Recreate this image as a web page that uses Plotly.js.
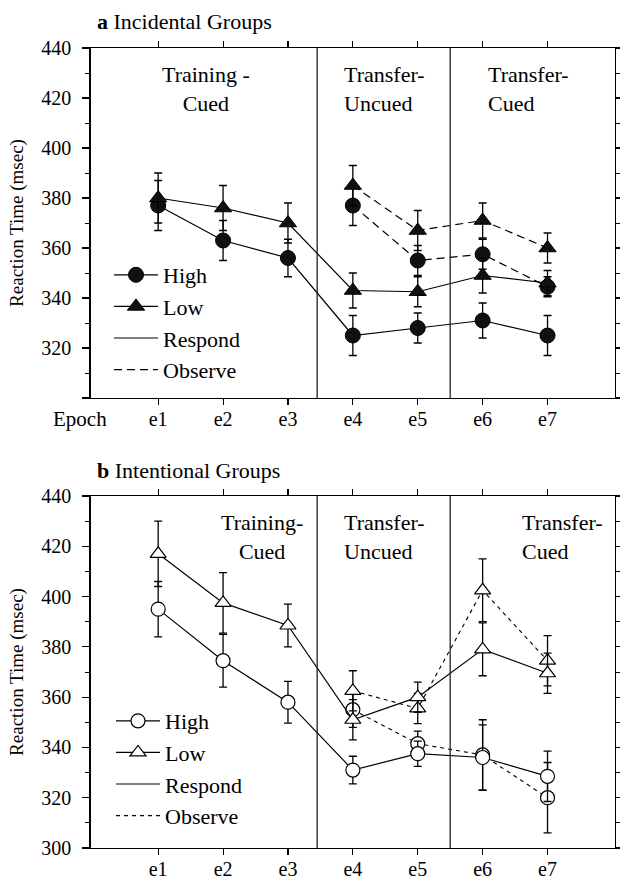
<!DOCTYPE html>
<html>
<head>
<meta charset="utf-8">
<script src="https://cdn.plot.ly/plotly-3.0.1.min.js"></script>
<style>
html,body{margin:0;padding:0;background:#fff;}
#chart{width:620px;height:879px;}
</style>
</head>
<body>
<div id="chart"></div>
<script>
// ---------- data ----------
const epochs = ['e1', 'e2', 'e3', 'e4', 'e5', 'e6', 'e7'];
const observeEpochs = ['e4', 'e5', 'e6', 'e7'];

// (a) Incidental groups
const incHighRespond    = [377, 363, 356, 325, 328, 331, 325];
const incHighRespondErr = [10, 8, 7.5, 8, 6, 7, 8];
const incLowRespond     = [380, 376, 370, 343, 342.5, 349, 346];
const incLowRespondErr  = [10, 9, 8, 7, 6, 7, 5];
const incHighObserve    = [377, 355, 357.5, 344.5];
const incHighObserveErr = [8, 6, 6, 4];
const incLowObserve     = [385, 367, 371, 360];
const incLowObserveErr  = [8, 8, 7, 6];

// (b) Intentional groups
const intHighRespond    = [395, 374.5, 358, 331, 337.5, 336, 328.5];
const intHighRespondErr = [11, 10.5, 8.3, 5.5, 5, 13, 10];
const intLowRespond     = [417, 397.5, 388.5, 351, 360, 379, 369.5];
const intLowRespondErr  = [13, 12, 8.5, 8, 6, 10.5, 8];
const intHighObserve    = [355, 341.5, 337, 320];
const intHighObserveErr = [7, 5, 14, 14];
const intLowObserve     = [362.5, 355.5, 402.5, 374.5];
const intLowObserveErr  = [8, 6, 12.5, 10];

const phaseBoundaries = [2.45, 4.5];   // between e3/e4 and e5/e6 (category index)
const yTickVals = [300, 320, 340, 360, 380, 400, 420, 440];
const yTickTextTop = ['', '320', '340', '360', '380', '400', '420', '440'];
const yTickTextBottom = ['300', '320', '340', '360', '380', '400', '420', '440'];
const yMinorVals = [310, 330, 350, 370, 390, 410, 430];

// ---------- helpers ----------
const W = 620, H = 879;
const px = v => v / W;
const py = v => 1 - v / H;
const FONT = 'Liberation Serif';

function errBar(arr) {
  return {type: 'data', array: arr, visible: true, color: '#000', thickness: 1.3, width: 4};
}
function series(x, y, err, xa, ya, opts) {
  return Object.assign({
    x: x, y: y, xaxis: xa, yaxis: ya, type: 'scatter', mode: 'lines+markers',
    error_y: errBar(err), cliponaxis: false
  }, opts);
}

const filledCircle = {symbol: 'circle', size: 15, color: '#111', line: {color: '#000', width: 1}};
const filledTri = {symbol: 'triangle-up', size: 15, color: '#111', line: {color: '#000', width: 1}};
const openCircle = {symbol: 'circle', size: 14, color: '#fff', line: {color: '#000', width: 1.2}};
const openTri = {symbol: 'triangle-up', size: 14, color: '#fff', line: {color: '#000', width: 1.2}};

const solidTop = {color: '#000', width: 1.2};
const dashTop = {color: '#000', width: 1.2, dash: '8px,5px'};
const solidBot = {color: '#000', width: 1.2};
const dashBot = {color: '#000', width: 1.1, dash: '4px,4px'};

const traces = [
  // panel a
  series(observeEpochs, incHighObserve, incHighObserveErr, 'x', 'y', {name: 'High obs', showlegend: false, marker: filledCircle, line: dashTop}),
  series(observeEpochs, incLowObserve, incLowObserveErr, 'x', 'y', {name: 'Low obs', showlegend: false, marker: filledTri, line: dashTop}),
  series(epochs, incHighRespond, incHighRespondErr, 'x', 'y', {name: 'High', legend: 'legend', marker: filledCircle, line: solidTop}),
  series(epochs, incLowRespond, incLowRespondErr, 'x', 'y', {name: 'Low', legend: 'legend', marker: filledTri, line: solidTop}),
  {x: [null], y: [null], xaxis: 'x', yaxis: 'y', mode: 'lines', name: 'Respond', legend: 'legend', line: solidTop},
  {x: [null], y: [null], xaxis: 'x', yaxis: 'y', mode: 'lines', name: 'Observe', legend: 'legend', line: dashTop},
  // panel b
  series(observeEpochs, intHighObserve, intHighObserveErr, 'x2', 'y2', {name: 'High obs', showlegend: false, marker: openCircle, line: dashBot}),
  series(observeEpochs, intLowObserve, intLowObserveErr, 'x2', 'y2', {name: 'Low obs', showlegend: false, marker: openTri, line: dashBot}),
  series(epochs, intHighRespond, intHighRespondErr, 'x2', 'y2', {name: 'High', legend: 'legend2', marker: openCircle, line: solidBot}),
  series(epochs, intLowRespond, intLowRespondErr, 'x2', 'y2', {name: 'Low', legend: 'legend2', marker: openTri, line: solidBot}),
  {x: [null], y: [null], xaxis: 'x2', yaxis: 'y2', mode: 'lines', name: 'Respond', legend: 'legend2', line: solidBot},
  {x: [null], y: [null], xaxis: 'x2', yaxis: 'y2', mode: 'lines', name: 'Observe', legend: 'legend2', line: dashBot}
];

function xAxis(anchor) {
  return {
    type: 'category', categoryorder: 'array', categoryarray: epochs,
    range: [-1.04, 7.04], domain: [90.7 / W, 615 / W], anchor: anchor,
    showline: true, linecolor: '#000', linewidth: 1.4, mirror: 'allticks',
    ticks: 'outside', ticklen: 6, tickwidth: 1.1, tickcolor: '#000', ticklabelstandoff: -3,
    showgrid: false, zeroline: false, tickfont: {family: FONT, size: 20, color: '#000'}
  };
}
function yAxis(anchor, domain, ticktext) {
  return {
    range: [300, 440], domain: domain, anchor: anchor,
    tickmode: 'array', tickvals: yTickVals, ticktext: ticktext,
    showline: true, linecolor: '#000', linewidth: 1.4, mirror: 'allticks',
    ticks: 'outside', ticklen: 7, tickwidth: 1.1, tickcolor: '#000',
    minor: {tickmode: 'array', tickvals: yMinorVals, ticks: 'outside', ticklen: 4, tickwidth: 1, tickcolor: '#000', showgrid: false},
    showgrid: false, zeroline: false, ticklabelstandoff: 7,
    tickfont: {family: FONT, size: 20, color: '#000'},
    title: {text: 'Reaction Time (msec)', font: {family: FONT, size: 19, color: '#000'}, standoff: 12}
  };
}

const shapes = [];
[['x', 'y'], ['x2', 'y2']].forEach(([xa, ya]) => {
  phaseBoundaries.forEach(b => {
    shapes.push({type: 'line', xref: xa, yref: ya + ' domain', x0: b, x1: b, y0: 0, y1: 1, line: {color: '#222', width: 1.3}});
  });
});

function ann(text, xpx, ypx, xanchor, align) {
  return {text: text, xref: 'paper', yref: 'paper', x: px(xpx), y: py(ypx), xanchor: xanchor, yanchor: 'middle',
    align: align, showarrow: false, font: {family: FONT, size: 22, color: '#000'}};
}

const annotations = [
  ann('<b>a</b> Incidental Groups', 95, 22, 'left', 'left'),
  ann('<b>b</b> Intentional Groups', 95, 470, 'left', 'left'),
  ann('Training -<br>Cued', 206, 89, 'center', 'center'),
  ann('Transfer-<br>Uncued', 342, 89, 'left', 'left'),
  ann('Transfer-<br>Cued', 486, 89, 'left', 'left'),
  ann('Training-<br>Cued', 262, 537, 'center', 'center'),
  ann('Transfer-<br>Uncued', 342, 537, 'left', 'left'),
  ann('Transfer-<br>Cued', 520, 537, 'left', 'left'),
  Object.assign(ann('Epoch', 80, 419, 'center', 'center'), {font: {family: FONT, size: 21, color: '#000'}})
];

const legendBase = {
  xanchor: 'left', yanchor: 'top', bgcolor: 'rgba(0,0,0,0)', borderwidth: 0,
  font: {family: FONT, size: 22, color: '#000'}, tracegroupgap: 0, itemwidth: 44, traceorder: 'normal'
};

const layout = {
  width: W, height: H, margin: {l: 0, r: 0, t: 0, b: 0},
  paper_bgcolor: '#fff', plot_bgcolor: '#fff', showlegend: true,
  font: {family: FONT, color: '#000'},
  xaxis: xAxis('y'),
  yaxis: yAxis('x', [1 - 398 / H, 1 - 48 / H], yTickTextTop),
  xaxis2: xAxis('y2'),
  yaxis2: yAxis('x2', [1 - 848 / H, 1 - 496 / H], yTickTextBottom),
  legend: Object.assign({x: px(109), y: py(254)}, legendBase),
  legend2: Object.assign({x: px(111), y: py(700)}, legendBase),
  shapes: shapes,
  annotations: annotations
};

Plotly.newPlot('chart', traces, layout, {displayModeBar: false, staticPlot: true});
</script>
</body>
</html>
